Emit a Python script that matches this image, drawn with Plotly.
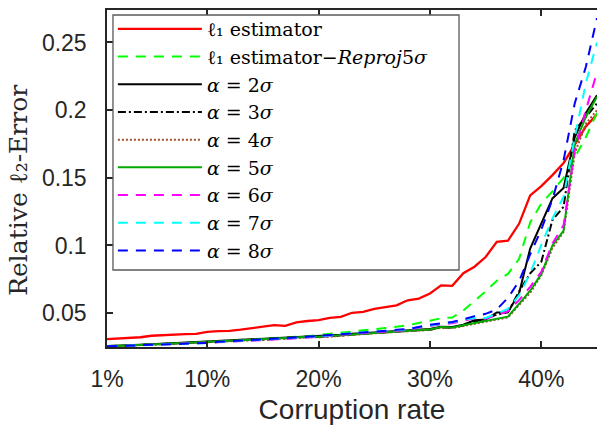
import plotly.graph_objects as go

# Corruption rate (%) for each experiment
rates = [1, 2, 3, 4, 5, 6, 7, 8, 9, 10, 11, 12, 13, 14, 15, 16, 17, 18, 19, 20, 21, 22, 23,
         24, 25, 26, 27, 28, 29, 30, 31, 32, 33, 34, 35, 36, 37, 38, 39, 40, 41, 42, 43, 44, 45]

# Relative l2 error of each estimator
err_l1 = [0.0308, 0.0313, 0.0315, 0.0322, 0.0333, 0.0338, 0.0342, 0.0345, 0.0347, 0.0362, 0.0367,
          0.0369, 0.0378, 0.0389, 0.0399, 0.0412, 0.0406, 0.0432, 0.0442, 0.0448, 0.0466, 0.0472,
          0.0503, 0.0510, 0.0532, 0.0545, 0.0558, 0.0595, 0.0608, 0.0645, 0.0705, 0.0702, 0.0795,
          0.0843, 0.0915, 0.1027, 0.1035, 0.1160, 0.1370, 0.1439, 0.1520, 0.1610, 0.1740, 0.1880,
          0.1970]
err_reproj = [0.0257, 0.0260, 0.0262, 0.0265, 0.0268, 0.0272, 0.0276, 0.0280, 0.0284, 0.0289,
              0.0293, 0.0297, 0.0301, 0.0305, 0.0308, 0.0313, 0.0318, 0.0325, 0.0330, 0.0338,
              0.0345, 0.0355, 0.0362, 0.0370, 0.0378, 0.0390, 0.0400, 0.0410, 0.0428, 0.0446,
              0.0462, 0.0468, 0.0520, 0.0590, 0.0660, 0.0740, 0.0790, 0.0900, 0.1170, 0.1310,
              0.1400, 0.1500, 0.1650, 0.1800, 0.1980]
err_a2 = [0.0257, 0.0262, 0.0264, 0.0267, 0.0270, 0.0274, 0.0278, 0.0282, 0.0286, 0.0290, 0.0294,
          0.0298, 0.0302, 0.0305, 0.0308, 0.0312, 0.0317, 0.0322, 0.0329, 0.0328, 0.0334, 0.0340,
          0.0347, 0.0350, 0.0357, 0.0362, 0.0367, 0.0372, 0.0378, 0.0383, 0.0400, 0.0398, 0.0415,
          0.0448, 0.0453, 0.0505, 0.0507, 0.0646, 0.0978, 0.1163, 0.1348, 0.1425, 0.1800, 0.1980,
          0.2110]
err_a3 = [0.0254, 0.0258, 0.0260, 0.0263, 0.0266, 0.0270, 0.0274, 0.0278, 0.0282, 0.0286, 0.0290,
          0.0294, 0.0298, 0.0301, 0.0304, 0.0308, 0.0313, 0.0318, 0.0325, 0.0323, 0.0330, 0.0336,
          0.0343, 0.0346, 0.0353, 0.0358, 0.0363, 0.0368, 0.0373, 0.0378, 0.0395, 0.0392, 0.0408,
          0.0435, 0.0458, 0.0488, 0.0507, 0.0660, 0.0794, 0.0880, 0.1188, 0.1286, 0.1850, 0.1950,
          0.2050]
err_a4 = [0.0253, 0.0257, 0.0259, 0.0262, 0.0265, 0.0269, 0.0273, 0.0277, 0.0281, 0.0285, 0.0289,
          0.0293, 0.0297, 0.0300, 0.0303, 0.0307, 0.0312, 0.0317, 0.0323, 0.0321, 0.0328, 0.0334,
          0.0341, 0.0344, 0.0351, 0.0356, 0.0361, 0.0366, 0.0371, 0.0376, 0.0393, 0.0390, 0.0405,
          0.0420, 0.0435, 0.0450, 0.0468, 0.0560, 0.0650, 0.0780, 0.0980, 0.1100, 0.1680, 0.1900,
          0.2000]
err_a5 = [0.0255, 0.0260, 0.0262, 0.0265, 0.0268, 0.0272, 0.0276, 0.0280, 0.0284, 0.0288, 0.0292,
          0.0296, 0.0300, 0.0303, 0.0306, 0.0310, 0.0315, 0.0320, 0.0328, 0.0325, 0.0332, 0.0338,
          0.0345, 0.0348, 0.0355, 0.0360, 0.0365, 0.0370, 0.0375, 0.0380, 0.0398, 0.0394, 0.0410,
          0.0427, 0.0440, 0.0457, 0.0474, 0.0568, 0.0666, 0.0790, 0.1000, 0.1110, 0.1750, 0.1950,
          0.2100]
err_a6 = [0.0254, 0.0257, 0.0259, 0.0261, 0.0263, 0.0266, 0.0269, 0.0271, 0.0274, 0.0278, 0.0285,
          0.0289, 0.0292, 0.0297, 0.0301, 0.0306, 0.0309, 0.0315, 0.0320, 0.0326, 0.0331, 0.0341,
          0.0347, 0.0351, 0.0356, 0.0365, 0.0370, 0.0375, 0.0392, 0.0406, 0.0417, 0.0426, 0.0445,
          0.0462, 0.0458, 0.0485, 0.0514, 0.0596, 0.0695, 0.0806, 0.1015, 0.1150, 0.1700, 0.2000,
          0.2280]
err_a7 = [0.0255, 0.0258, 0.0260, 0.0262, 0.0264, 0.0267, 0.0270, 0.0272, 0.0275, 0.0279, 0.0287,
          0.0291, 0.0294, 0.0299, 0.0304, 0.0309, 0.0312, 0.0318, 0.0323, 0.0330, 0.0335, 0.0346,
          0.0352, 0.0356, 0.0361, 0.0370, 0.0375, 0.0380, 0.0397, 0.0412, 0.0422, 0.0432, 0.0452,
          0.0465, 0.0465, 0.0497, 0.0532, 0.0631, 0.0794, 0.1004, 0.1200, 0.1360, 0.1800, 0.2200,
          0.2500]
err_a8 = [0.0255, 0.0258, 0.0260, 0.0262, 0.0264, 0.0267, 0.0270, 0.0272, 0.0275, 0.0280, 0.0288,
          0.0292, 0.0295, 0.0300, 0.0305, 0.0310, 0.0313, 0.0320, 0.0325, 0.0332, 0.0337, 0.0348,
          0.0354, 0.0358, 0.0363, 0.0372, 0.0377, 0.0382, 0.0400, 0.0415, 0.0425, 0.0435, 0.0455,
          0.0478, 0.0495, 0.0527, 0.0613, 0.0736, 0.0934, 0.1118, 0.1340, 0.1630, 0.2050, 0.2320,
          0.2680]

series_names = [
    "ℓ₁ estimator",
    "ℓ₁ estimator−<i>Reproj</i>5<i>σ</i>",
    "<i>α</i> = 2<i>σ</i>",
    "<i>α</i> = 3<i>σ</i>",
    "<i>α</i> = 4<i>σ</i>",
    "<i>α</i> = 5<i>σ</i>",
    "<i>α</i> = 6<i>σ</i>",
    "<i>α</i> = 7<i>σ</i>",
    "<i>α</i> = 8<i>σ</i>",
]
series_values = [err_l1, err_reproj, err_a2, err_a3, err_a4, err_a5, err_a6, err_a7, err_a8]
series_colors = ["#ff0000", "#00ff00", "#000000", "#000000", "#a0522d",
                 "#00a800", "#ff00ff", "#00ffff", "#0000ff"]
series_dash = ["solid", "10px,8px", "solid", "8px,3px,2px,3px", "2px,2px",
               "solid", "10px,8px", "10px,8px", "10px,8px"]
series_width = [2.3, 2, 2, 2, 2, 2, 2, 2, 2]

xtick_vals = [1, 10, 20, 30, 40]
xtick_text = ["1%", "10%", "20%", "30%", "40%"]
ytick_vals = [0.05, 0.1, 0.15, 0.2, 0.25]
ytick_text = ["0.05", "0.1", "0.15", "0.2", "0.25"]

fig = go.Figure()
for i, (name, vals, col, dash, lw) in enumerate(
        zip(series_names, series_values, series_colors, series_dash, series_width)):
    fig.add_trace(go.Scatter(
        x=rates, y=vals, mode="lines", name=name,
        legendgroup=f"g{i}",
        line=dict(color=col, width=lw, dash=dash),
    ))

# White framed panel behind the legend entries
fig.add_shape(
    type="rect", xref="paper", yref="paper",
    x0=0.0122, x1=0.7184, y0=0.2285, y1=0.9852,
    fillcolor="white", line=dict(color="#595959", width=1.3), layer="above",
)

# Vertical y-axis title
fig.add_annotation(
    text="Relative ℓ₂-Error", xref="paper", yref="paper",
    x=-0.180, y=0.466, xanchor="center", yanchor="middle",
    textangle=-90, showarrow=False,
    font=dict(family="DejaVu Serif", size=25, color="#262626"),
)

axis_color = "#262626"
fig.update_layout(
    width=597, height=425,
    margin=dict(l=107, r=0, t=10, b=78),
    paper_bgcolor="white", plot_bgcolor="white",
    showlegend=True,
    legend=dict(
        x=0.012, y=1.0, xanchor="left", yanchor="top",
        bgcolor="rgba(0,0,0,0)", borderwidth=0,
        font=dict(family="DejaVu Serif", size=19, color="black"),
        itemwidth=84, traceorder="grouped", tracegroupgap=0,
    ),
    xaxis=dict(
        range=[1, 45], tickvals=xtick_vals, ticktext=xtick_text,
        ticks="inside", ticklen=6, tickwidth=1.5, tickcolor=axis_color,
        showline=True, linecolor=axis_color, linewidth=1.5, mirror="ticks",
        showgrid=False, zeroline=False,
        tickfont=dict(family="Liberation Sans", size=23, color="#262626"),
        ticklabelstandoff=11,
        title=dict(text="Corruption rate", standoff=10,
                   font=dict(family="Liberation Sans", size=28, color="#262626")),
    ),
    yaxis=dict(
        range=[0.025, 0.274], tickvals=ytick_vals, ticktext=ytick_text,
        ticks="inside", ticklen=6, tickwidth=1.5, tickcolor=axis_color,
        showline=True, linecolor=axis_color, linewidth=1.5, mirror=False,
        showgrid=False, zeroline=False,
        tickfont=dict(family="Liberation Sans", size=23, color="#262626"),
        ticklabelstandoff=14,
    ),
)

fig.write_html("out.html")
